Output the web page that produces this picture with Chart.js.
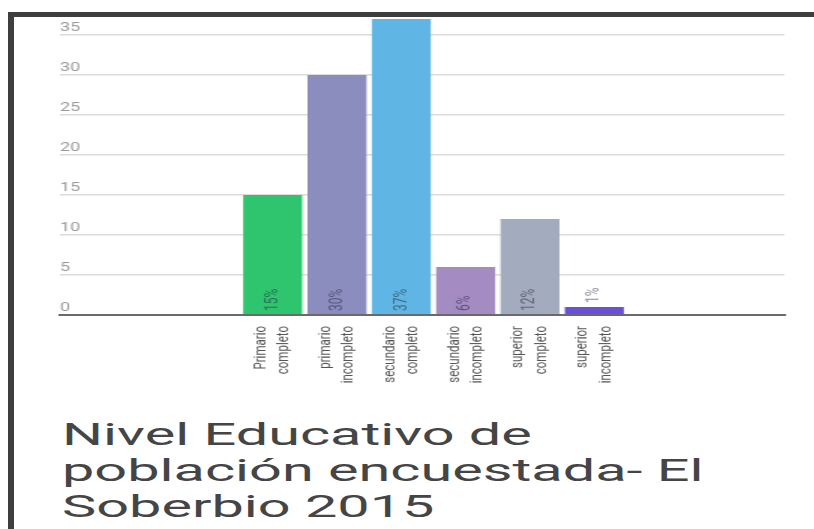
<!DOCTYPE html>
<html>
<head>
<meta charset="utf-8">
<script src="https://cdn.jsdelivr.net/npm/chart.js@4"></script>
<style>
  html, body { margin: 0; padding: 0; background: #fff; width: 814px; height: 529px; overflow: hidden; }
  #frame { position: absolute; left: 8px; top: 12px; width: 806px; height: 517px;
           border-left: 6px solid #3e3e3e; border-top: 5px solid #3e3e3e; box-sizing: border-box; }
  #chartwrap { position: absolute; left: 0; top: 0; width: 543px; height: 390px;
               transform: scaleX(1.5); transform-origin: 0 0; }
  #title { position: absolute; left: 62px; top: 416px; margin: 0; white-space: nowrap;
           font-family: Roboto, sans-serif; font-weight: 400; font-size: 32px; line-height: 36px;
           color: #454545; transform: scaleX(1.8); transform-origin: 0 0; }
</style>
</head>
<body>
<div id="frame"></div>
<div id="chartwrap"><canvas id="c"></canvas></div>
<div id="title">Nivel Educativo de<br>población encuestada- El<br>Soberbio 2015</div>
<script>
const categories = [
  ['Primario', 'completo'],
  ['primario', 'incompleto'],
  ['secundario', 'completo'],
  ['secundario', 'incompleto'],
  ['superior', 'completo'],
  ['superior', 'incompleto']
];
const values = [15, 30, 37, 6, 12, 1];
const percentLabels = ['15%', '30%', '37%', '6%', '12%', '1%'];
const barColors = ['#2ec56e', '#8c8dbf', '#5fb6e4', '#a48cc2', '#a3abbe', '#6a4fd8'];

const pctPlugin = {
  id: 'pct',
  afterDatasetsDraw(chart) {
    const ctx = chart.ctx;
    const meta = chart.getDatasetMeta(0);
    ctx.save();
    ctx.font = '12px Roboto, sans-serif';
    ctx.fillStyle = 'rgba(40,40,70,0.55)';
    ctx.textAlign = 'left';
    ctx.textBaseline = 'middle';
    meta.data.forEach((bar, i) => {
      const p = bar.getProps(['x', 'y', 'base'], true);
      const txt = percentLabels[i];
      const w = ctx.measureText(txt).width;
      const start = (p.base - p.y > w + 6) ? p.base - 3 : p.y - 4;
      ctx.save();
      ctx.translate(p.x, start);
      ctx.rotate(-Math.PI / 2);
      ctx.fillText(txt, 0, 0);
      ctx.restore();
    });
    ctx.restore();
  }
};

new Chart(document.getElementById('c'), {
  type: 'bar',
  data: {
    datasets: [{
      data: values.map((v, i) => ({ x: i, y: v })),
      backgroundColor: barColors,
      borderWidth: 0,
      barPercentage: 0.917,
      categoryPercentage: 1
    }]
  },
  options: {
    responsive: true,
    maintainAspectRatio: false,
    animation: false,
    layout: { padding: { left: 40, right: 20, top: 15, bottom: 0 } },
    plugins: { legend: { display: false }, tooltip: { enabled: false }, title: { display: false } },
    scales: {
      x: {
        type: 'linear',
        min: -3.305,
        max: 7.955,
        offset: false,
        grid: { display: false, offset: false },
        border: { display: true, color: '#6a6a6a', width: 2 },
        afterFit(scale) { scale.height = 75; },
        ticks: {
          stepSize: 1,
          autoSkip: false,
          includeBounds: false,
          minRotation: 90,
          maxRotation: 90,
          padding: 3,
          labelOffset: -7.8,
          color: '#555',
          font: { family: 'Roboto, sans-serif', size: 11.5, lineHeight: 1.35 },
          callback(v) { return (Number.isInteger(v) && v >= 0 && v < categories.length) ? categories[v] : ''; }
        }
      },
      y: {
        min: 0,
        max: 37.5,
        border: { display: false },
        afterFit(scale) { scale.width = 0; },
        grid: {
          color: (c) => c.tick && c.tick.value === 0 ? '#6a6a6a' : '#dcdcdc',
          lineWidth: (c) => c.tick && c.tick.value === 0 ? 2 : 1.5,
          drawTicks: false
        },
        ticks: {
          stepSize: 5,
          includeBounds: false,
          mirror: true,
          padding: 0,
          labelOffset: -7.5,
          color: '#9a9a9a',
          font: { family: 'Roboto, sans-serif', size: 12 }
        }
      }
    }
  },
  plugins: [pctPlugin]
});
</script>
</body>
</html>
